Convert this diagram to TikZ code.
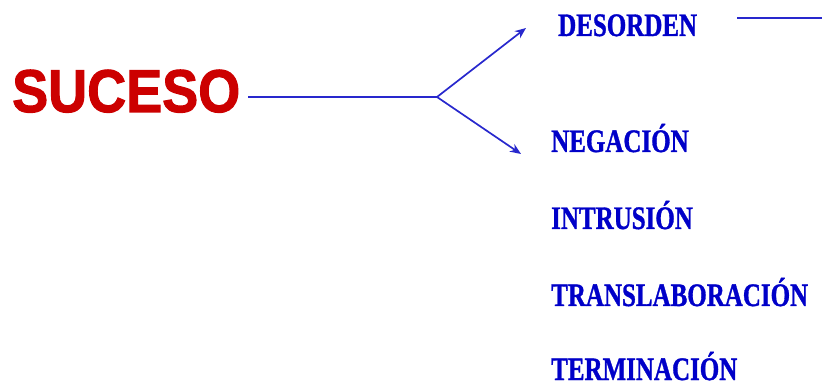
\documentclass[tikz,border=0pt]{standalone}
\usepackage{fontspec}
\setmainfont{Liberation Serif}[BoldFeatures={FakeBold=1.2}]
\newfontfamily\sucfont{Liberation Sans}[BoldFeatures={FakeBold=1.8}]
\usetikzlibrary{arrows.meta}
\definecolor{sucred}{RGB}{204,0,0}
\definecolor{txtblue}{RGB}{0,0,200}
\definecolor{lnblue}{RGB}{40,40,205}
\tikzset{
  item/.style={anchor=base west, inner sep=0pt, text=txtblue, font=\fontsize{25}{27}\selectfont\bfseries, yscale=1.31, transform shape},
  title/.style={anchor=base west, inner sep=0pt, text=sucred, font=\sucfont\fontsize{54}{56}\selectfont\bfseries, yscale=1.12, transform shape},
  conn/.style={draw=lnblue, line width=1.7pt},
  arr/.style={conn, -{Stealth[length=11pt,width=9pt]}}
}
\begin{document}
\begin{tikzpicture}[x=1pt,y=-1pt]
\useasboundingbox (0,0) rectangle (822,387);
\node[title] (suc) at (12,112) {SUCESO};
\node[item] (des) at (558,36) {DESORDEN};
\node[item] (neg) at (551,152) {NEGACIÓN};
\node[item] (int) at (551,229) {INTRUSIÓN};
\node[item] (tra) at (551,306) {TRANSLABORACIÓN};
\node[item] (ter) at (551,380) {TERMINACIÓN};
\coordinate (s0) at (248,97);
\coordinate (br) at (437,97);
\coordinate (tipD) at (526,28);
\coordinate (tipN) at (521,154);
\coordinate (l0) at (737,18);
\coordinate (l1) at (822,18);
\draw[conn] (s0) -- (br);
\draw[arr] (br) -- (tipD);
\draw[arr] (br) -- (tipN);
\draw[conn] (l0) -- (l1);
\end{tikzpicture}
\end{document}
